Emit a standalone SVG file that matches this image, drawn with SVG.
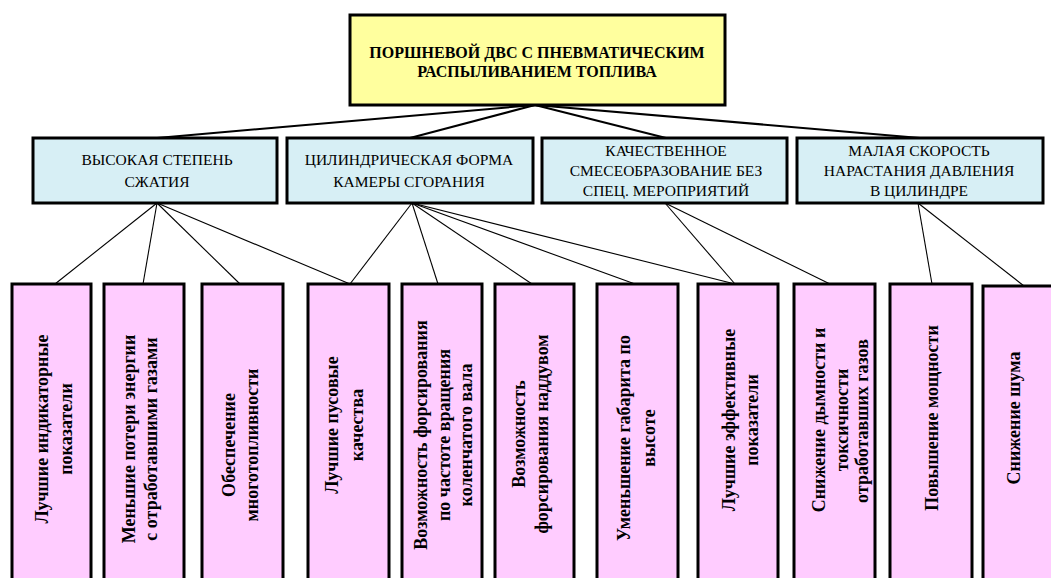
<svg xmlns="http://www.w3.org/2000/svg" width="1051" height="578" viewBox="0 0 1051 578">
<style>
.top{fill:#ffff9e;stroke:#000;stroke-width:3}
.mid{fill:#d7eff5;stroke:#000;stroke-width:3}
.bot{fill:#ffccff;stroke:#000;stroke-width:3}
.tt{font-family:"Liberation Serif",serif;font-weight:bold;font-size:16px;text-anchor:middle;fill:#000}
.mt{font-family:"Liberation Serif",serif;font-size:15.5px;text-anchor:middle;fill:#000}
.bt{font-family:"Liberation Serif",serif;font-weight:bold;font-size:18px;text-anchor:middle;fill:#000}
.c1{stroke:#000;stroke-width:2;fill:none}
.c2{stroke:#000;stroke-width:1.1;fill:none}
</style>
<rect width="1051" height="578" fill="#fff"/>
<g id="connectors">
<line class="c1" x1="535" y1="105" x2="157" y2="138"/>
<line class="c1" x1="535" y1="105" x2="410" y2="138"/>
<line class="c1" x1="535" y1="105" x2="666" y2="138"/>
<line class="c1" x1="535" y1="105" x2="920" y2="138"/>
<line class="c2" x1="157" y1="203" x2="55" y2="284"/>
<line class="c2" x1="157" y1="203" x2="143" y2="284"/>
<line class="c2" x1="157" y1="203" x2="240" y2="284"/>
<line class="c2" x1="157" y1="203" x2="350" y2="284"/>
<line class="c2" x1="412" y1="203" x2="350" y2="284"/>
<line class="c2" x1="412" y1="203" x2="438" y2="284"/>
<line class="c2" x1="412" y1="203" x2="532" y2="284"/>
<line class="c2" x1="412" y1="203" x2="635" y2="284"/>
<line class="c2" x1="412" y1="203" x2="735" y2="284"/>
<line class="c2" x1="665" y1="203" x2="735" y2="284"/>
<line class="c2" x1="665" y1="203" x2="830" y2="284"/>
<line class="c2" x1="918" y1="203" x2="932" y2="284"/>
<line class="c2" x1="918" y1="203" x2="1024" y2="286"/>
</g>
<g id="n-top">
<rect class="top" x="350" y="15" width="375" height="90"/>
<text class="tt" x="537" y="58">ПОРШНЕВОЙ ДВС С ПНЕВМАТИЧЕСКИМ</text>
<text class="tt" x="537" y="77">РАСПЫЛИВАНИЕМ ТОПЛИВА</text>
</g>
<g id="n-m1">
<rect class="mid" x="33" y="138" width="244" height="65"/>
<text class="mt" x="157" y="165">ВЫСОКАЯ СТЕПЕНЬ</text>
<text class="mt" x="157" y="187">СЖАТИЯ</text>
</g>
<g id="n-m2">
<rect class="mid" x="287" y="138" width="246" height="65"/>
<text class="mt" x="409" y="165">ЦИЛИНДРИЧЕСКАЯ ФОРМА</text>
<text class="mt" x="409" y="187">КАМЕРЫ СГОРАНИЯ</text>
</g>
<g id="n-m3">
<rect class="mid" x="542" y="138" width="245" height="65"/>
<text class="mt" x="666" y="156">КАЧЕСТВЕННОЕ</text>
<text class="mt" x="666" y="176">СМЕСЕОБРАЗОВАНИЕ БЕЗ</text>
<text class="mt" x="666" y="196">СПЕЦ. МЕРОПРИЯТИЙ</text>
</g>
<g id="n-m4">
<rect class="mid" x="797" y="138" width="246" height="65"/>
<text class="mt" x="919" y="156">МАЛАЯ СКОРОСТЬ</text>
<text class="mt" x="919" y="176">НАРАСТАНИЯ ДАВЛЕНИЯ</text>
<text class="mt" x="919" y="196">В ЦИЛИНДРЕ</text>
</g>
<g id="n-b1">
<rect class="bot" x="12" y="284" width="79" height="310"/>
<text class="bt" transform="translate(48,429) rotate(-90)">Лучшие индикаторные</text>
<text class="bt" transform="translate(72,429) rotate(-90)">показатели</text>
</g>
<g id="n-b2">
<rect class="bot" x="104" y="284" width="80" height="310"/>
<text class="bt" transform="translate(135,439) rotate(-90)">Меньшие потери энергии</text>
<text class="bt" transform="translate(157,439) rotate(-90)">с отработавшими газами</text>
</g>
<g id="n-b3">
<rect class="bot" x="202" y="284" width="81" height="310"/>
<text class="bt" transform="translate(235,445) rotate(-90)">Обеспечение</text>
<text class="bt" transform="translate(258,445) rotate(-90)">многотопливности</text>
</g>
<g id="n-b4">
<rect class="bot" x="308" y="284" width="81" height="310"/>
<text class="bt" transform="translate(338,425) rotate(-90)">Лучшие пусовые</text>
<text class="bt" transform="translate(363,425) rotate(-90)">качества</text>
</g>
<g id="n-b5">
<rect class="bot" x="402" y="284" width="80" height="310"/>
<text class="bt" transform="translate(427,435) rotate(-90)">Возможность форсирования</text>
<text class="bt" transform="translate(450,435) rotate(-90)">по частоте вращения</text>
<text class="bt" transform="translate(472,435) rotate(-90)">коленчатого вала</text>
</g>
<g id="n-b6">
<rect class="bot" x="495" y="284" width="79" height="310"/>
<text class="bt" transform="translate(525,434) rotate(-90)">Возможность</text>
<text class="bt" transform="translate(548,434) rotate(-90)">форсирования наддувом</text>
</g>
<g id="n-b7">
<rect class="bot" x="597" y="284" width="81" height="310"/>
<text class="bt" transform="translate(630,438) rotate(-90)">Уменьшение габарита по</text>
<text class="bt" transform="translate(655,438) rotate(-90)">высоте</text>
</g>
<g id="n-b8">
<rect class="bot" x="698" y="284" width="80" height="310"/>
<text class="bt" transform="translate(735,420) rotate(-90)">Лучшие эффективные</text>
<text class="bt" transform="translate(758,420) rotate(-90)">показатели</text>
</g>
<g id="n-b9">
<rect class="bot" x="794" y="284" width="81" height="310"/>
<text class="bt" transform="translate(825,420) rotate(-90)">Снижение дымности и</text>
<text class="bt" transform="translate(848,420) rotate(-90)">токсичности</text>
<text class="bt" transform="translate(868,421) rotate(-90)">отработавших газов</text>
</g>
<g id="n-b10">
<rect class="bot" x="890" y="284" width="82" height="310"/>
<text class="bt" transform="translate(938,418) rotate(-90)">Повышение мощности</text>
</g>
<g id="n-b11">
<rect class="bot" x="983" y="286" width="82" height="310"/>
<text class="bt" transform="translate(1020,418) rotate(-90)">Снижение шума</text>
</g>
</svg>
